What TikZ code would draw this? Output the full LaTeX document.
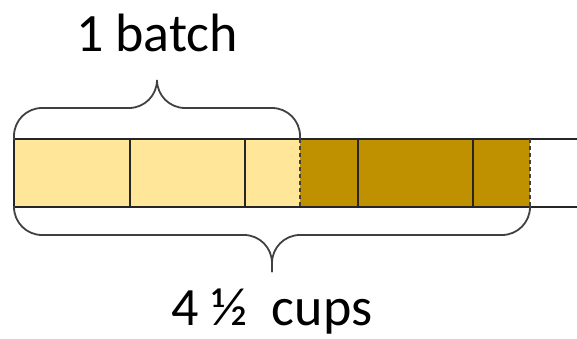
\documentclass[tikz,border=0pt]{standalone}
\usepackage{fontspec}
\setmainfont{Carlito}
\usetikzlibrary{positioning}

\definecolor{lightgold}{HTML}{FFE699}
\definecolor{darkgold}{HTML}{BF9000}
\definecolor{braceline}{HTML}{404040}

\tikzset{
  brace/.style={draw=braceline, line width=1.8pt, rounded corners=28pt},
  cut/.style={draw=black!85, line width=2.2pt},
  halfcut/.style={draw=black!75, line width=2pt, dash pattern=on 4pt off 3pt},
  label/.style={inner sep=0pt, anchor=base, font=\fontsize{54}{64}\selectfont}
}

\begin{document}
\begin{tikzpicture}[x=1pt, y=-1pt]
  \useasboundingbox (0,0) rectangle (577,339);

  % Segments
  \fill[lightgold] (14,139) rectangle (300,207);
  \fill[darkgold] (300,139) rectangle (530,207);

  % Bar
  \draw[cut] (577,139) -- (14,139) -- (14,207) -- (577,207);
  \foreach \x in {130,245,358,473}
    \draw[cut] (\x,139) -- (\x,207);
  \draw[halfcut] (300,139) -- (300,207);
  \draw[halfcut] (530,139) -- (530,207);

  % Labels
  \node[label] (batch) at (157,52) {1 batch};
  \node[label] (cups) at (272,325) {4 ½\ \ cups};

  % Braces
  \draw[brace] (157,80) -- (157,108) -- (14,108) -- (14,140);
  \draw[brace] (157,80) -- (157,108) -- (300,108) -- (300,140);
  \draw[brace] (272,272) -- (272,235) -- (14,235) -- (14,206);
  \draw[brace] (272,272) -- (272,235) -- (530,235) -- (530,206);
\end{tikzpicture}
\end{document}
